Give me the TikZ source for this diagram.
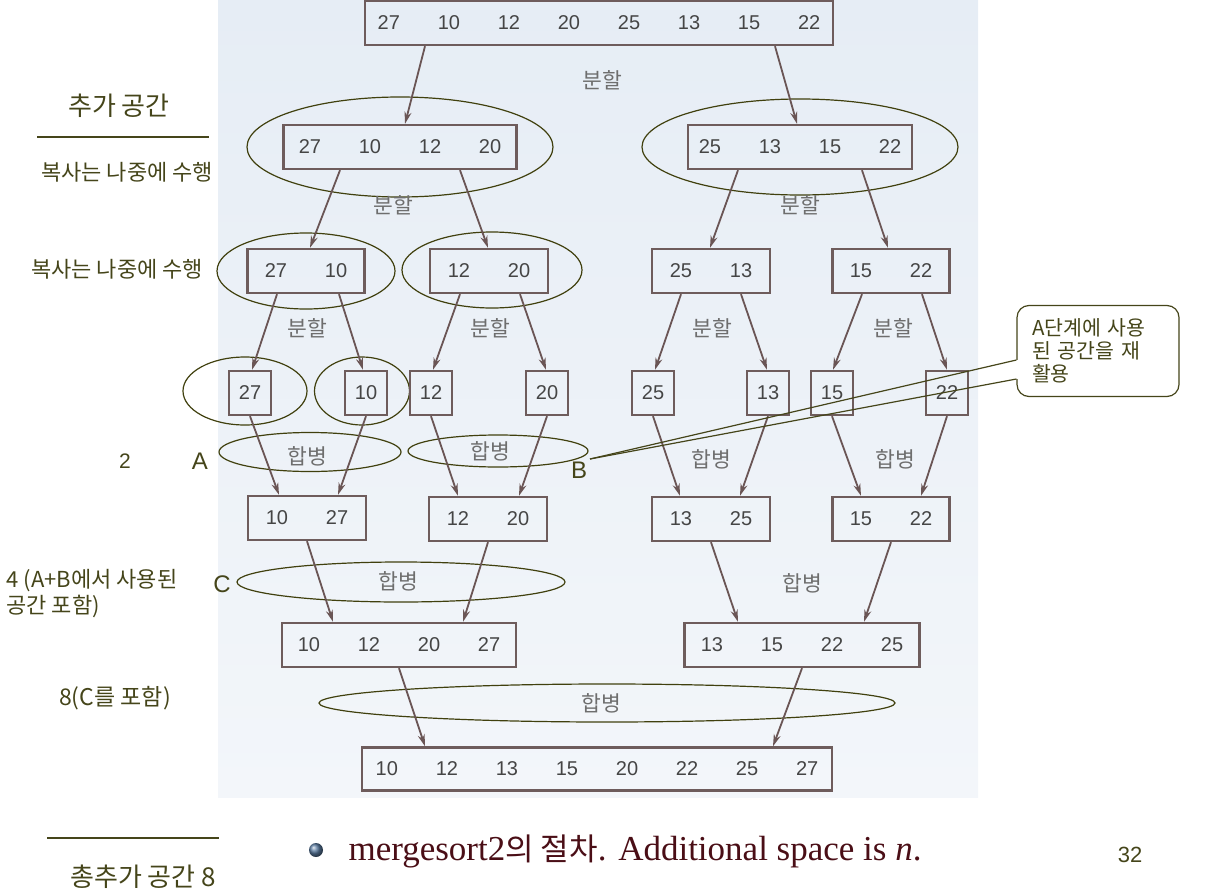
\documentclass[tikz,border=0pt]{standalone}
\usepackage{fontspec}
\setmainfont{Liberation Sans}
\newfontfamily\kor{Noto Sans CJK KR}
\newfontfamily\serif{Liberation Serif}
\usetikzlibrary{arrows.meta,shapes.geometric}
\definecolor{bgtop}{HTML}{E6EDF5}
\definecolor{bgbot}{HTML}{F3F6FA}
\definecolor{boxc}{HTML}{6E5C5C}
\definecolor{arrc}{HTML}{6A5555}
\definecolor{numc}{HTML}{454545}
\definecolor{labc}{HTML}{6E6E6E}
\definecolor{ringc}{HTML}{40400E}
\definecolor{oltxt}{HTML}{45451A}
\definecolor{maroon}{HTML}{4A0E16}
\definecolor{dotc}{HTML}{5A7BA0}

% numbers in one box, 60px apart
\newcommand\row[1]{\foreach \v [count=\k] in {#1}{\ifnum\k>1\hspace{37.8pt}\fi\v}}

\begin{document}
\begin{tikzpicture}[x=1pt,y=-1pt,>={Stealth[length=12pt,width=7pt]},
    cell/.style={rectangle,draw=boxc,line width=2.4pt,minimum height=44pt,inner sep=0pt,font=\fontsize{20}{22}\selectfont,text=numc},
    one/.style={cell,minimum width=42pt},
    ring/.style={ellipse,draw=ringc,line width=1.2pt,inner sep=0pt},
    lab/.style={font=\kor\fontsize{21.5}{24}\selectfont,text=labc},
    side/.style={font=\kor\fontsize{22}{26}\selectfont,text=oltxt},
    big/.style={font=\fontsize{24}{26}\selectfont,text=oltxt},
    arr/.style={->,draw=arrc,line width=1.8pt},
  ]
  \useasboundingbox (0,0) rectangle (1210,894);
  \shade[top color=bgtop,bottom color=bgbot] (218,0) rectangle (978,797);

  % ellipses for the space used
  \node[ring,minimum width=306pt,minimum height=100pt] (e2a) at (400,147) {};
  \node[ring,minimum width=316pt,minimum height=96pt]  (e2b) at (800,147) {};
  \node[ring,minimum width=178pt,minimum height=76pt]  (e3a) at (306,271) {};
  \node[ring,minimum width=180pt,minimum height=76pt]  (e3b) at (492,270) {};
  \node[ring,minimum width=124pt,minimum height=68pt]  (e4a) at (245,391) {};
  \node[ring,minimum width=95pt,minimum height=68pt]   (e4b) at (362,391) {};
  \node[ring,minimum width=182pt,minimum height=39pt]  (eA) at (310,452) {};
  \node[ring,minimum width=180pt,minimum height=32pt]  (eB) at (498,451) {};
  \node[ring,minimum width=328pt,minimum height=40pt]  (eC) at (401,582) {};
  \node[ring,minimum width=576pt,minimum height=38pt]  (eD) at (607,703) {};

  % boxes
  \node[cell,minimum width=468pt] (top) at (599,23) {\row{27,10,12,20,25,13,15,22}};
  \node[cell,minimum width=233pt] (l2a) at (400,147) {\row{27,10,12,20}};
  \node[cell,minimum width=224pt] (l2b) at (800,147) {\row{25,13,15,22}};
  \node[cell,minimum width=117pt] (l3a) at (306,271) {\row{27,10}};
  \node[cell,minimum width=118pt] (l3b) at (489,271) {\row{12,20}};
  \node[cell,minimum width=118pt] (l3c) at (711,271) {\row{25,13}};
  \node[cell,minimum width=117pt] (l3d) at (891,271) {\row{15,22}};
  \node[one] (n27) at (250,393) {27};
  \node[one] (n10) at (366,393) {10};
  \node[one] (n12) at (431,393) {12};
  \node[one] (n20) at (547,393) {20};
  \node[one] (n25) at (653,393) {25};
  \node[one] (n13) at (768,393) {13};
  \node[one] (n15) at (832,393) {15};
  \node[one] (n22) at (947,393) {22};
  \node[cell,minimum width=118pt] (l5a) at (307,518) {\row{10,27}};
  \node[cell,minimum width=118pt] (l5b) at (488,519) {\row{12,20}};
  \node[cell,minimum width=118pt] (l5c) at (711,519) {\row{13,25}};
  \node[cell,minimum width=117pt] (l5d) at (891,519) {\row{15,22}};
  \node[cell,minimum width=234pt] (l6a) at (399,645) {\row{10,12,20,27}};
  \node[cell,minimum width=235pt] (l6b) at (802,645) {\row{13,15,22,25}};
  \node[cell,minimum width=470pt,minimum height=43pt] (l7) at (597,769) {\row{10,12,13,15,20,22,25,27}};

  % split
  \draw[arr] ([xshift=-174pt]top.south) -- ([xshift=5pt]l2a.north);
  \draw[arr] ([xshift=176pt]top.south) -- ([xshift=-3pt]l2b.north);
  \draw[arr] ([xshift=-60pt]l2a.south) -- ([xshift=4pt]l3a.north);
  \draw[arr] ([xshift=60pt]l2a.south) -- ([xshift=-1pt]l3b.north);
  \draw[arr] ([xshift=-62pt]l2b.south) -- ([xshift=-1pt]l3c.north);
  \draw[arr] ([xshift=62pt]l2b.south) -- ([xshift=-3pt]l3d.north);
  \draw[arr] ([xshift=-29pt]l3a.south) -- ([xshift=2pt]n27.north);
  \draw[arr] ([xshift=33pt]l3a.south) -- ([xshift=-3pt]n10.north);
  \draw[arr] ([xshift=-29pt]l3b.south) -- ([xshift=2pt]n12.north);
  \draw[arr] ([xshift=31pt]l3b.south) -- ([xshift=-1pt]n20.north);
  \draw[arr] ([xshift=-30pt]l3c.south) -- ([xshift=2pt]n25.north);
  \draw[arr] ([xshift=30pt]l3c.south) -- ([xshift=-1pt]n13.north);
  \draw[arr] ([xshift=-29pt]l3d.south) -- ([xshift=1pt]n15.north);
  \draw[arr] ([xshift=31pt]l3d.south) -- (n22.north);
  % merge
  \draw[arr] (n27.south) -- ([xshift=-28pt]l5a.north);
  \draw[arr] (n10.south) -- ([xshift=31pt]l5a.north);
  \draw[arr] (n12.south) -- ([xshift=-30pt]l5b.north);
  \draw[arr] (n20.south) -- ([xshift=31pt]l5b.north);
  \draw[arr] (n25.south) -- ([xshift=-31pt]l5c.north);
  \draw[arr] (n13.south) -- ([xshift=29pt]l5c.north);
  \draw[arr] (n15.south) -- ([xshift=-30pt]l5d.north);
  \draw[arr] (n22.south) -- ([xshift=30pt]l5d.north);
  \draw[arr] (l5a.south) -- ([xshift=-66pt]l6a.north);
  \draw[arr] (l5b.south) -- ([xshift=64pt]l6a.north);
  \draw[arr] (l5c.south) -- ([xshift=-64pt]l6b.north);
  \draw[arr] (l5d.south) -- ([xshift=62pt]l6b.north);
  \draw[arr] (l6a.south) -- ([xshift=-172pt]l7.north);
  \draw[arr] (l6b.south) -- ([xshift=176pt]l7.north);

  \node[lab] (s1) at (602,80) {분할};
  \node[lab] (s2) at (393,205) {분할};
  \node[lab] (s3) at (800,205) {분할};
  \node[lab] (s4) at (307,328) {분할};
  \node[lab] (s5) at (490,328) {분할};
  \node[lab] (s6) at (712,328) {분할};
  \node[lab] (s7) at (893,328) {분할};
  \node[lab] (m1) at (307,456) {합병};
  \node[lab] (m2) at (490,451) {합병};
  \node[lab] (m3) at (711,459) {합병};
  \node[lab] (m4) at (895,459) {합병};
  \node[lab] (m5) at (398,581) {합병};
  \node[lab] (m6) at (802,583) {합병};
  \node[lab] (m7) at (601,703) {합병};

  % notes on the left
  \node[side,font=\kor\fontsize{26}{28}\selectfont] (extra) at (119,106) {추가 공간};
  \node[side] (cp1) at (127,172) {복사는 나중에 수행};
  \node[side] (cp2) at (117,269) {복사는 나중에 수행};
  \node[big,font=\fontsize{21}{24}\selectfont] (two) at (125,461) {2};
  \node[big] (tA) at (200,461) {A};
  \node[big] (tB) at (579,470) {B};
  \node[big] (tC) at (222,584) {C};
  \node[side,anchor=west,align=left] (four) at (3,594) {4 (A+B에서 사용된\\공간 포함)};
  \node[side,font=\kor\fontsize{23}{26}\selectfont] (eight) at (115,698) {8(C를 포함)};
  \node[side,font=\kor\fontsize{26}{28}\selectfont] (total) at (143,877) {총추가 공간 8};
  \draw[oltxt,line width=1.5pt] (37,137) -- (209,137);
  \draw[oltxt,line width=1.5pt] (47,838) -- (219,838);

  % callout
  \node[draw=oltxt,line width=1.2pt,fill=white,rounded corners=12pt,minimum width=162pt,minimum height=91pt,
        text width=132pt,align=left,font=\kor\fontsize{20.5}{23}\selectfont,text=oltxt] (note) at (1098,351) {A단계에 사용\\된 공간을 재\\활용};
  \coordinate (tipB) at (590,459);
  \draw[white,line width=2.5pt] ([yshift=-9pt]note.west) -- ([yshift=-28pt]note.west);
  \draw[oltxt,line width=1.2pt] (tipB) -- ([yshift=-9pt]note.west);
  \draw[oltxt,line width=1.2pt] (tipB) -- ([yshift=-28pt]note.west);

  % caption
  \node[circle,minimum size=14pt,inner sep=0pt,ball color=dotc] (dot) at (316,850) {};
  \node[anchor=west,text=maroon,font=\serif\fontsize{35}{38}\selectfont] (cap) at (345,851) {mergesort2{\kor\fontsize{31}{34}\selectfont 의 절차}. Additional space is \textit{n}.};
  \node[font=\fontsize{22}{24}\selectfont,text=oltxt] (page) at (1130,855) {32};
\end{tikzpicture}
\end{document}
